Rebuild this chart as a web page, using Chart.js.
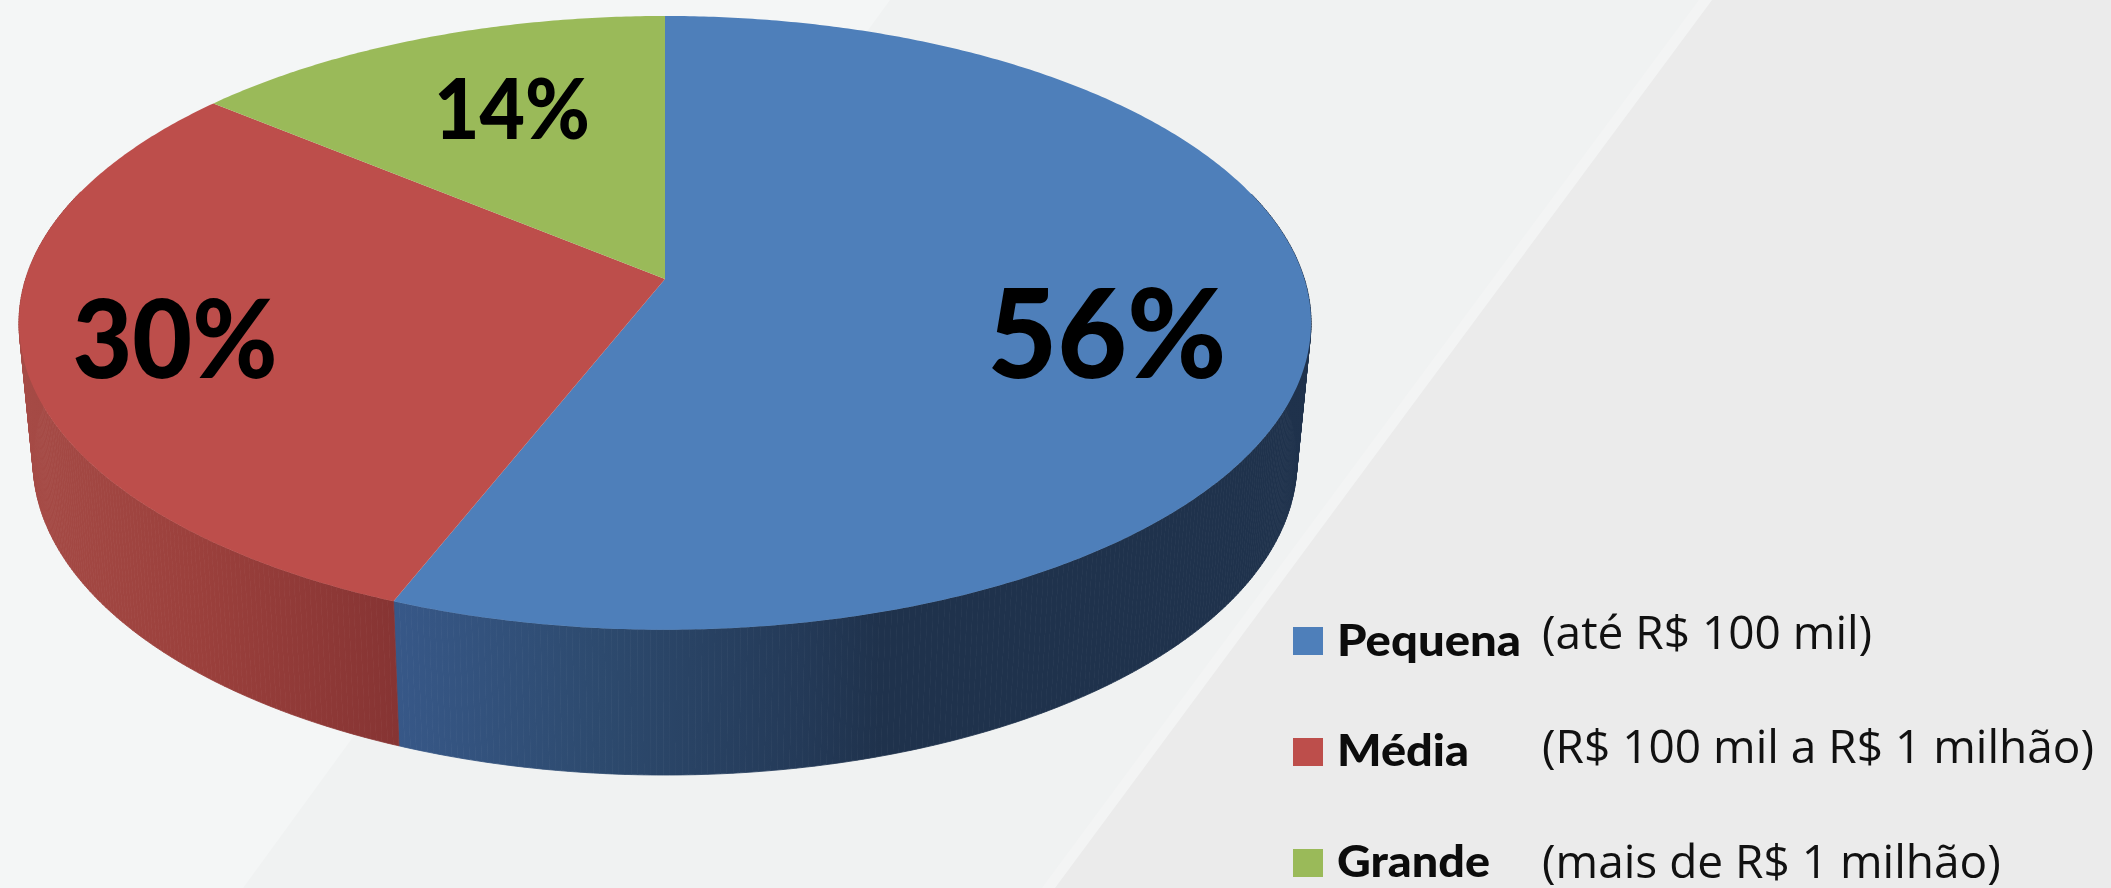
<!DOCTYPE html>
<html lang="pt">
<head>
<meta charset="utf-8">
<title>Empresas por porte</title>
<script src="https://cdn.jsdelivr.net/npm/chart.js@4/dist/chart.umd.min.js"></script>
<style>
html,body{margin:0;padding:0;width:2111px;height:888px;overflow:hidden;background:#f0f2f2;}
#bg{position:absolute;left:0;top:0;width:2111px;height:888px;}
#c{position:absolute;left:0;top:0;filter:blur(0.5px);}
</style>
</head>
<body>
<svg id="bg" width="2111" height="888" aria-hidden="true">
  <rect width="2111" height="888" fill="#f0f2f2"/>
  <polygon points="0,0 890,0 243,888 0,888" fill="#f4f6f6"/>
  <polygon points="1699,0 2111,0 2111,888 1042,888" fill="#f3f4f4"/>
  <polygon points="1712,0 2111,0 2111,888 1055,888" fill="#ebebeb"/>
</svg>
<canvas id="c" width="2111" height="888"></canvas>
<script>
const categories = ['Pequena', 'Média', 'Grande'];
const ranges = ['(até R$ 100 mil)', '(R$ 100 mil a R$ 1 milhão)', '(mais de R$ 1 milhão)'];
const values = [56, 30, 14];
const sliceColors = ['#4e7fba', '#bd4e4b', '#9aba59'];

const wallStops = [
  [[380, '#38598a'], [600, '#2d4a6e'], [800, '#243a58'], [880, '#1f324c'], [1320, '#1f324c']],
  [[20, '#a64b46'], [200, '#9b403c'], [400, '#863433']],
  [[0, '#6f8a3f'], [1320, '#6f8a3f']]
];
const labelPos = [[1107, 333, 124, 239], [175, 339, 108, 205], [512, 109, 84, 156]];
const legendWidths = [184, 132, 153];

const TOP = {A: 639.4, K: 300.6, P: 0.1429, dy: 0};
const LOW = {A: 625.3, K: 307.4, P: 0.145, dy: 136.5};
const project = (g, cx, cy, t) => {
  const u = Math.cos(t), v = Math.sin(t), d = 1 - g.P * v;
  return [cx + g.A * u / d, cy + g.dy + g.K * v / d];
};
const STEP = Math.PI / 360;
const sample = (a, b) => {
  const n = Math.max(2, Math.ceil((b - a) / STEP)), o = [];
  for (let i = 0; i <= n; i++) o.push(a + (b - a) * i / n);
  return o;
};

const pie3d = {
  id: 'pie3d',
  beforeDatasetsDraw(chart) {
    const ctx = chart.ctx, arcs = chart.getDatasetMeta(0).data;
    // side wall
    arcs.forEach((el, i) => {
      const ts = sample(el.startAngle, el.endAngle);
      const g = ctx.createLinearGradient(0, 0, chart.width, 0);
      wallStops[i].forEach(s => g.addColorStop(s[0] / chart.width, s[1]));
      ctx.fillStyle = g;
      ctx.strokeStyle = g;
      ctx.lineWidth = 0.8;
      for (let k = 0; k < ts.length - 1; k++) {
        if (Math.sin(ts[k]) < -0.3) continue;
        const a = project(TOP, el.x, el.y, ts[k]), b = project(TOP, el.x, el.y, ts[k + 1]);
        const c = project(LOW, el.x, el.y, ts[k + 1]), d = project(LOW, el.x, el.y, ts[k]);
        ctx.beginPath();
        ctx.moveTo(a[0], a[1]); ctx.lineTo(b[0], b[1]); ctx.lineTo(c[0], c[1]); ctx.lineTo(d[0], d[1]);
        ctx.closePath();
        ctx.fill();
        ctx.stroke();
      }
    });
    // top face
    arcs.forEach(el => {
      ctx.beginPath();
      ctx.moveTo(el.x, el.y);
      sample(el.startAngle, el.endAngle).forEach(t => {
        const p = project(TOP, el.x, el.y, t);
        ctx.lineTo(p[0], p[1]);
      });
      ctx.closePath();
      ctx.fillStyle = el.options.backgroundColor;
      ctx.fill();
    });
    return false;
  },
  afterDraw(chart) {
    const ctx = chart.ctx;
    const fit = (text, x, y, font, width, align) => {
      ctx.save();
      ctx.font = font;
      ctx.textAlign = align;
      ctx.textBaseline = 'alphabetic';
      const sx = width / ctx.measureText(text).width;
      ctx.translate(x, y);
      ctx.scale(sx, 1);
      ctx.fillText(text, 0, 0);
      ctx.restore();
    };
    ctx.fillStyle = '#000';
    values.forEach((v, i) => {
      const q = labelPos[i];
      fit(v + '%', q[0], q[1] + q[2] * 0.36, '900 ' + q[2] + 'px Lato', q[3], 'center');
    });
    // legend
    const sq = [[627, 656, 649], [738, 766, 763], [849, 877, 878]];
    categories.forEach((name, i) => {
      ctx.fillStyle = sliceColors[i];
      ctx.fillRect(1293, sq[i][0], 30, 28);
      ctx.fillStyle = '#0c0c0c';
      fit(name, 1337, sq[i][1], '900 44px Lato', legendWidths[i], 'left');
      ctx.fillStyle = '#111';
      ctx.font = '46px "Open Sans"';
      ctx.textAlign = 'left';
      ctx.textBaseline = 'alphabetic';
      ctx.fillText(ranges[i], 1542, sq[i][2]);
    });
  }
};

new Chart(document.getElementById('c'), {
  type: 'pie',
  data: {
    labels: categories,
    datasets: [{data: values, backgroundColor: sliceColors, borderWidth: 0}]
  },
  options: {
    responsive: false,
    animation: false,
    layout: {padding: {left: 0, right: 781, top: 0, bottom: 330}},
    plugins: {legend: {display: false}, tooltip: {enabled: false}}
  },
  plugins: [pie3d]
});
</script>
</body>
</html>
